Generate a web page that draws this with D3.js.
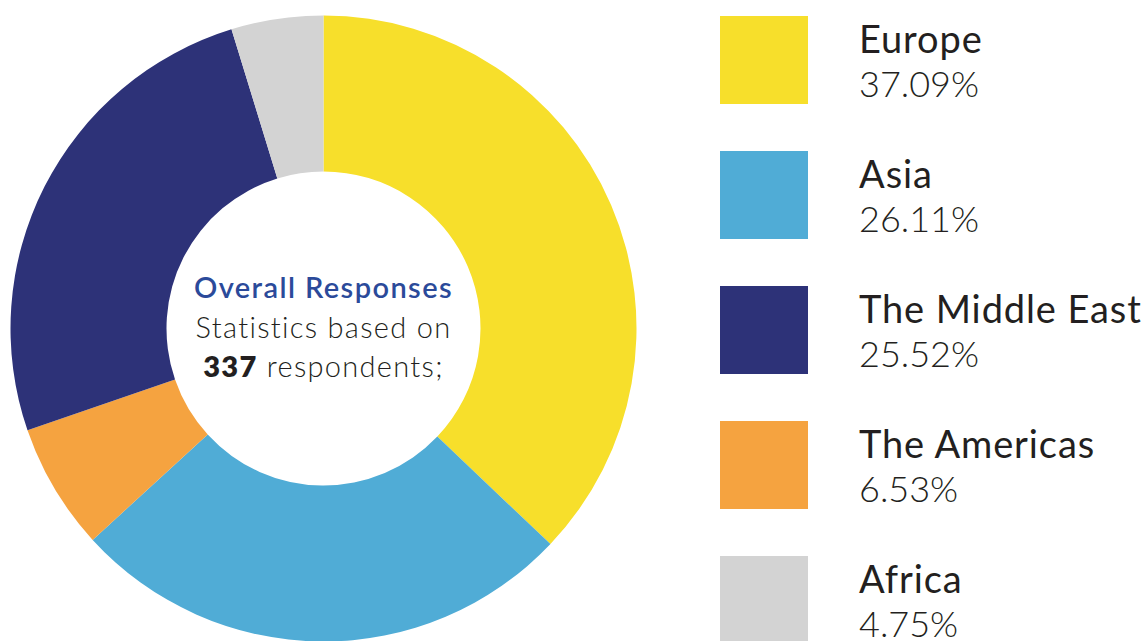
<!DOCTYPE html>
<html>
<head>
<meta charset="utf-8">
<script src="https://cdn.jsdelivr.net/npm/d3@7/dist/d3.min.js"></script>
<style>
  html, body { margin: 0; padding: 0; background: #ffffff; }
  svg { display: block; }
</style>
</head>
<body>
<svg id="chart" width="1146" height="641"></svg>
<script>
// Regional breakdown of survey responses
const regions = ["Europe", "Asia", "The Middle East", "The Americas", "Africa"];
const shares = [37.09, 26.11, 25.52, 6.53, 4.75];
const colors = ["#F7DF2B", "#50ACD6", "#2D3278", "#F5A340", "#D3D3D3"];
// Clockwise order of the slices around the ring, starting at 12 o'clock
const ringOrder = ["Europe", "Asia", "The Americas", "The Middle East", "Africa"];
const respondents = 337;

const data = regions.map((name, i) => ({ name, value: shares[i], color: colors[i] }));
const ringData = ringOrder.map(n => data.find(d => d.name === n));

const svg = d3.select("#chart");
const font = "Lato, 'Open Sans', 'DejaVu Sans', sans-serif";

// Donut
const cx = 323.5, cy = 328.5, outerR = 313, innerR = 157;

const pie = d3.pie().value(d => d.value).sort(null);
const arc = d3.arc().innerRadius(innerR).outerRadius(outerR);

const g = svg.append("g").attr("transform", `translate(${cx},${cy})`);
g.selectAll("path")
  .data(pie(ringData))
  .join("path")
  .attr("d", arc)
  .attr("fill", d => d.data.color);

// Centre caption
const cap = g.append("g").attr("font-family", font).attr("text-anchor", "middle");
cap.append("text")
  .attr("y", -31)
  .attr("font-size", 29)
  .attr("font-weight", 600)
  .attr("letter-spacing", 1.4)
  .attr("fill", "#2B4A9A")
  .text("Overall Responses");
cap.append("text")
  .attr("y", 9)
  .attr("font-size", 29)
  .attr("font-weight", 300)
  .attr("letter-spacing", 1.3)
  .attr("fill", "#231F20")
  .text("Statistics based on");
const last = cap.append("text")
  .attr("y", 48)
  .attr("font-size", 29)
  .attr("font-weight", 300)
  .attr("letter-spacing", 1.3)
  .attr("fill", "#231F20");
last.append("tspan").attr("font-weight", 800).text(respondents);
last.append("tspan").text(" respondents;");

// Legend
const legendY = d3.scaleBand()
  .domain(regions)
  .range([16, 16 + 135 * regions.length])
  .paddingInner(0);

const items = svg.append("g")
  .selectAll("g")
  .data(data)
  .join("g")
  .attr("transform", d => `translate(720,${legendY(d.name)})`);

items.append("rect")
  .attr("width", 88)
  .attr("height", 88)
  .attr("fill", d => d.color);

items.append("text")
  .attr("x", 139)
  .attr("y", 37)
  .attr("font-family", font)
  .attr("font-size", 38)
  .attr("font-weight", 400)
  .attr("letter-spacing", 0.9)
  .attr("fill", "#231F20")
  .text(d => d.name);

items.append("text")
  .attr("x", 139)
  .attr("y", 81)
  .attr("font-family", font)
  .attr("font-size", 36)
  .attr("font-weight", 300)
  .attr("fill", "#231F20")
  .text(d => d3.format(".2f")(d.value) + "%");
</script>
</body>
</html>
